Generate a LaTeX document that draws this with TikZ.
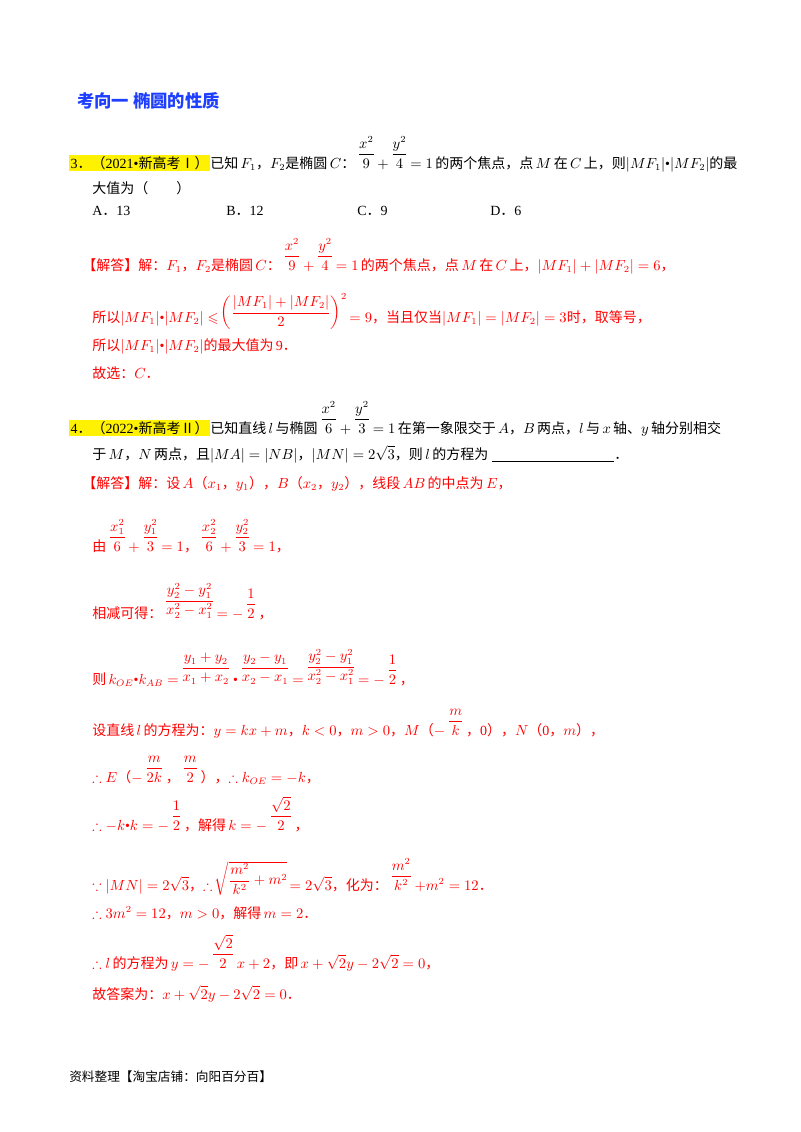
\documentclass[tikz,border=0pt]{standalone}
\usepackage{amsmath,amssymb}
\usepackage{fontspec}
\setmainfont{Liberation Serif}
\newfontfamily\cjk{Noto Sans CJK SC}
\newcommand\C[1]{{\cjk #1}}
\newlength\fdd
\newcommand\ffr[2]{\setbox0\hbox{$\dfrac{#1}{#2}$}\fdd=\dp0\,\raisebox{\fdd}{\box0}\,}
\definecolor{ttl}{HTML}{1F3FFF}
\definecolor{ans}{HTML}{FF0000}
\begin{document}
\begin{tikzpicture}[x=0.75pt,y=-0.75pt,
  ln/.style={anchor=base west,inner sep=0pt,font=\fontsize{10.5}{12}\selectfont},
  rd/.style={ln,text=ans},
  hl/.style={ln,fill=yellow,inner sep=1pt}]
\useasboundingbox (0,0) rectangle (800,1132);
\node[ln,text=ttl,font=\fontsize{13}{15}\bfseries] (t) at (77,107) {\C{考向一\ 椭圆的性质}};
% Q3
\node[hl] (h3) at (69,168) {3\C{．（}2021•\C{新高考Ⅰ）}};
\node[ln] (q3a) at (h3.base east) {\C{已知}\,$F_1$\C{，}$F_2$\C{是椭圆}\,$C$\C{：}\ffr{x^2}{9}$+$\ffr{y^2}{4}$=1$\,\C{的两个焦点，点}\,$M$\,\C{在}\,$C$\,\C{上，则}$|MF_1|$•$|MF_2|$\C{的最}};
\node[ln] (q3b) at (92,193) {\C{大值为（\qquad ）}};
\node[ln] (oa) at (92,215) {A\C{．}13};
\node[ln] (ob) at (226,215) {B\C{．}12};
\node[ln] (oc) at (357,215) {C\C{．}9};
\node[ln] (od) at (490,215) {D\C{．}6};
\node[rd] (a3a) at (82,270) {\C{【解答】解：}$F_1$\C{，}$F_2$\C{是椭圆}\,$C$\C{：}\ffr{x^2}{9}$+$\ffr{y^2}{4}$=1$\,\C{的两个焦点，点}\,$M$\,\C{在}\,$C$\,\C{上，}$|MF_1|+|MF_2|=6$\C{，}};
\node[rd] (a3b) at (92,322) {\C{所以}$|MF_1|$•$|MF_2|\leqslant$\,\raisebox{4pt}{$\left(\dfrac{|MF_1|+|MF_2|}{2}\right)^{2}$}\,$=9$\C{，当且仅当}$|MF_1|=|MF_2|=3$\C{时，取等号，}};
\node[rd] (a3c) at (92,350) {\C{所以}$|MF_1|$•$|MF_2|$\C{的最大值为}\,9\C{．}};
\node[rd] (a3d) at (92,378) {\C{故选：}$C$\C{．}};
% Q4
\node[hl] (h4) at (69,433) {4\C{．（}2022•\C{新高考Ⅱ）}};
\node[ln] (q4a) at (h4.base east) {\C{已知直线}\,$l$\,\C{与椭圆}\ffr{x^2}{6}$+$\ffr{y^2}{3}$=1$\,\C{在第一象限交于}\,$A$\C{，}$B$\,\C{两点，}$l$\,\C{与}\,$x$\,\C{轴、}$y$\,\C{轴分别相交}};
\node[ln] (q4b) at (92,459) {\C{于}\,$M$\C{，}$N$\,\C{两点，且}$|MA|=|NB|$\C{，}$|MN|=2\sqrt{3}$\C{，则}\,$l$\,\C{的方程为}\ \underline{\hspace{92pt}}\C{．}};
\node[rd] (a4a) at (82,488) {\C{【解答】解：设}\,$A$\C{（}$x_1$\C{，}$y_1$\C{），}$B$\C{（}$x_2$\C{，}$y_2$\C{），线段}\,$AB$\,\C{的中点为}\,$E$\C{，}};
\node[rd] (a4b) at (92,551) {\C{由}\ffr{x_1^2}{6}$+$\ffr{y_1^2}{3}$=1$\C{，}\ffr{x_2^2}{6}$+$\ffr{y_2^2}{3}$=1$\C{，}};
\node[rd] (a4c) at (92,618) {\C{相减可得：}\ffr{y_2^2-y_1^2}{x_2^2-x_1^2}$=-$\ffr{1}{2}\C{，}};
\node[rd] (a4d) at (92,684) {\C{则}\,$k_{OE}$•$k_{AB}=$\ffr{y_1+y_2}{x_1+x_2}•\ffr{y_2-y_1}{x_2-x_1}$=$\ffr{y_2^2-y_1^2}{x_2^2-x_1^2}$=-$\ffr{1}{2}\C{，}};
\node[rd] (a4e) at (92,735) {\C{设直线}\,$l$\,\C{的方程为：}$y=kx+m$\C{，}$k<0$\C{，}$m>0$\C{，}$M$\C{（}$-$\ffr{m}{k}\C{，}0\C{），}$N$\C{（}0\C{，}$m$\C{），}};
\node[rd] (a4f) at (92,782) {$\therefore E$\C{（}$-$\ffr{m}{2k}\C{，}\ffr{m}{2}\C{），}$\therefore k_{OE}=-k$\C{，}};
\node[rd] (a4g) at (92,830) {$\therefore -k$•$k=-$\ffr{1}{2}\C{，解得}\,$k=-$\ffr{\sqrt{2}}{2}\C{，}};
\node[rd] (a4h) at (92,890) {$\because |MN|=2\sqrt{3}$\C{，}$\therefore$\,\raisebox{4pt}{$\sqrt{\dfrac{m^2}{k^2}+m^2}$}\,$=2\sqrt{3}$\C{，化为：}\ffr{m^2}{k^2}$+m^2=12$\C{．}};
\node[rd] (a4i) at (92,918) {$\therefore 3m^2=12$\C{，}$m>0$\C{，解得}\,$m=2$\C{．}};
\node[rd] (a4j) at (92,968) {$\therefore l$\,\C{的方程为}\,$y=-$\ffr{\sqrt{2}}{2}$x+2$\C{，即}\,$x+\sqrt{2}y-2\sqrt{2}=0$\C{，}};
\node[rd] (a4k) at (92,999) {\C{故答案为：}$x+\sqrt{2}y-2\sqrt{2}=0$\C{．}};
\node[ln,font=\fontsize{9.5}{11}\selectfont] (ft) at (69,1081) {\C{资料整理【淘宝店铺：向阳百分百】}};
\end{tikzpicture}
\end{document}
